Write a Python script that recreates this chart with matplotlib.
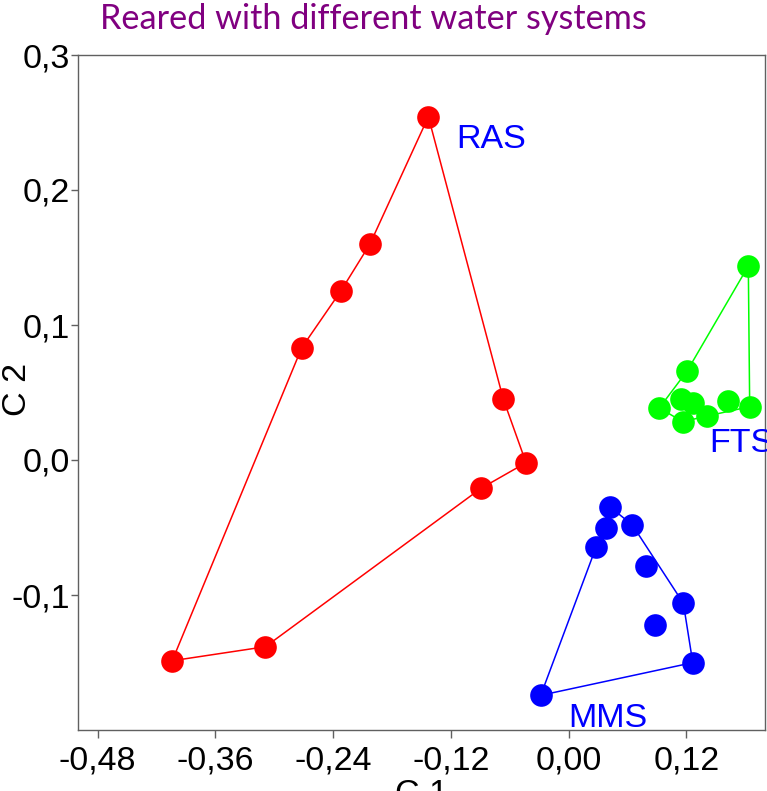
import matplotlib
matplotlib.use('Agg')
import matplotlib.pyplot as plt
import numpy as np

# PCA scores, component 1 / component 2
ras_c1 = [-0.143, -0.2025, -0.232, -0.272, -0.0666, -0.0435, -0.0894, -0.309, -0.404]
ras_c2 = [0.2543, 0.160, 0.1254, 0.0832, 0.045, -0.002, -0.021, -0.1383, -0.1487]

fts_c1 = [0.183, 0.1208, 0.0923, 0.1147, 0.127, 0.1162, 0.1412, 0.1623, 0.1844]
fts_c2 = [0.1437, 0.0661, 0.0385, 0.045, 0.042, 0.0284, 0.0326, 0.0435, 0.0395]

mms_c1 = [0.0418, 0.038, 0.0648, 0.0278, 0.0785, 0.1168, 0.0882, 0.1264, -0.0285]
mms_c2 = [-0.0346, -0.0506, -0.0481, -0.0647, -0.0785, -0.1061, -0.122, -0.1501, -0.1743]

# outline order (point indices) for each group
ras_outline = [8, 3, 2, 1, 0, 4, 5, 6, 7, 8]
fts_outline = [0, 1, 2, 5, 6, 8, 0]
mms_outline = [8, 3, 0, 2, 5, 7, 8]

# group label anchors (left, baseline)
groups = ['RAS', 'FTS', 'MMS']
label_c1 = [-0.1147, 0.1435, -0.0006]
label_c2 = [0.2312, 0.0062, -0.1978]

xticks = [-0.48, -0.36, -0.24, -0.12, 0.00, 0.12]
yticks = [-0.1, 0.0, 0.1, 0.2, 0.3]

W, H = 767, 791
fig = plt.figure(figsize=(W/100., H/100.), dpi=100)
ax = fig.add_axes([78./W, 1-730./H, 687./W, 675./H])

font = 'Liberation Sans'
fs = 24.5

for xs, ys, order, col in [(ras_c1, ras_c2, ras_outline, '#ff0000'),
                           (fts_c1, fts_c2, fts_outline, '#00ff00'),
                           (mms_c1, mms_c2, mms_outline, '#0000ff')]:
    xs = np.array(xs)
    ys = np.array(ys)
    ax.plot(xs[order], ys[order], color=col, linewidth=1.1, zorder=2)
    ax.plot(xs, ys, 'o', color=col, markersize=16.3, markeredgewidth=0, zorder=3)

for g, x, y in zip(groups, label_c1, label_c2):
    ax.text(x, y, g, color='#0000ff', fontsize=fs, family=font,
            ha='left', va='baseline', clip_on=False, zorder=4)

ax.set_xlim(-0.5, 0.2)
ax.set_ylim(-0.2, 0.3)

ax.set_xticks(xticks)
ax.set_xticklabels([('%.2f' % (v + 0.0)).replace('.', ',') for v in xticks])
ax.set_yticks(yticks)
ax.set_yticklabels([('%.1f' % (v + 0.0)).replace('.', ',') for v in yticks])

for lab in ax.get_xticklabels() + ax.get_yticklabels():
    lab.set_family(font)
    lab.set_fontsize(fs)

ax.tick_params(axis='x', direction='out', length=5.5, width=1, color='#606060', pad=5.5)
ax.tick_params(axis='y', direction='out', length=5, width=1, color='#606060', pad=1)
for sp in ax.spines.values():
    sp.set_color('#606060')
    sp.set_linewidth(1)

# axis titles placed on the figure
fig.text(421.5/W, 1-803./H, 'C 1', fontsize=fs, family=font, ha='center', va='baseline')
fig.text(17.5/W, 1-389./H, 'C 2', fontsize=fs, family=font, rotation=90,
         ha='center', va='center')

fig.text(100./W, 1-29.3/H, 'Reared with different water systems', color='#800080',
         fontsize=24.7, family='Lato', ha='left', va='baseline')

fig.savefig('out.png', dpi=100)
